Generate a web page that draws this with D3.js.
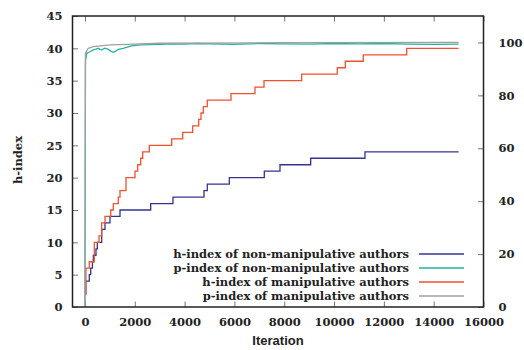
<!DOCTYPE html>
<html>
<head>
<meta charset="utf-8">
<script src="https://cdn.jsdelivr.net/npm/d3@7"></script>
<style>
  body { margin: 0; background: #fff; }
  text { fill: #222; }
</style>
</head>
<body>
<div id="chart"></div>
<script>
// iteration / value pairs
const hNonManip = [[0,2],[30,4],[174,5],[231,6],[300,7],[335,8],[443,9],[496,10],[672,12],[805,13],[1005,14],[1407,15],
  [2639,16],[3534,17],[4779,18],[4911,19],[5795,20],[7200,21],[7830,22],[9062,23],[11242,24],[15000,24]];
const hManip = [[0,2],[40,6],[174,7],[375,10],[564,11],[672,13],[805,14],[1034,15],[1138,16],[1339,17],[1407,18],
  [1648,20],[2009,21],[2117,22],[2238,23],[2318,24],[2583,25],[3482,26],[3924,27],[4325,28],[4566,29],[4659,30],
  [4751,31],[4911,32],[5863,33],[6826,34],[7188,35],[8701,36],[10130,37],[10452,38],[11174,39],[12916,40],[15000,40]];
// p-index is drawn against the right axis
const pNonManip = [[0,0],[20,93],[70,95.9],[200,96.5],[335,97.2],[440,97.5],[536,97.8],[600,97.4],[672,97.2],
  [805,97.8],[900,97.6],[1005,96.9],[1080,96.5],[1138,96.3],[1250,96.8],[1339,97.4],[1539,97.8],[1700,98.2],
  [1877,98.7],[2210,99.05],[2600,99.2],[3013,99.3],[3500,99.5],[4000,99.4],[4500,99.6],[5000,99.5],[6000,99.3],
  [7000,99.6],[8000,99.5],[9000,99.4],[10000,99.6],[11000,99.5],[12000,99.6],[13000,99.4],[14000,99.3],[15000,99.4]];
const pManip = [[0,0],[20,96],[134,97.8],[335,98.4],[1005,99.05],[1700,99.3],[3013,99.7],[8000,99.9],[15000,100]];

const seriesNames = ["h-index of non-manipulative authors", "p-index of non-manipulative authors",
  "h-index of manipulative authors", "p-index of manipulative authors"];
const seriesColors = ["#34348f", "#22b3a6", "#f0522c", "#a0a0a0"];
const xTicks = [0, 2000, 4000, 6000, 8000, 10000, 12000, 14000, 16000];
const yTicks = [0, 5, 10, 15, 20, 25, 30, 35, 40, 45];
const y2Ticks = [0, 20, 40, 60, 80, 100];

const W = 524, H = 350;
const m = { left: 72.5, right: 40.5, top: 16, bottom: 43 };

const svg = d3.select("#chart").append("svg").attr("width", W).attr("height", H);

const x = d3.scaleLinear().domain([-500, 16000]).range([m.left, W - m.right]);
const y = d3.scaleLinear().domain([0, 45]).range([H - m.bottom, m.top]);
const y2 = d3.scaleLinear().domain([0, 110]).range([H - m.bottom, m.top]);

const serif = "'DejaVu Serif', serif";

// ticks
function tickStyle(g) {
  g.select(".domain").remove();
  g.selectAll(".tick line").attr("stroke", "#777").attr("stroke-width", 1);
  g.selectAll(".tick text").attr("font-family", serif).attr("font-weight", "bold")
    .attr("font-size", 11.5).attr("fill", "#222");
}
svg.append("g").attr("transform", `translate(0,${H - m.bottom})`)
  .call(d3.axisBottom(x).tickValues(xTicks).tickSize(-5.5).tickPadding(11).tickFormat(d3.format("d")))
  .call(tickStyle);
svg.append("g").attr("transform", `translate(0,${m.top})`)
  .call(d3.axisTop(x).tickValues(xTicks).tickSize(-5.5).tickFormat(""))
  .call(tickStyle);
svg.append("g").attr("transform", `translate(${m.left},0)`)
  .call(d3.axisLeft(y).tickValues(yTicks).tickSize(-5.5).tickPadding(10))
  .call(tickStyle);
svg.append("g").attr("transform", `translate(${W - m.right},0)`)
  .call(d3.axisRight(y2).tickValues(y2Ticks).tickSize(-5.5).tickPadding(15))
  .call(tickStyle);

// lines
const lineH = d3.line().curve(d3.curveStepAfter).x(d => x(d[0])).y(d => y(d[1]));
const lineP = d3.line().x(d => x(d[0])).y(d => y2(d[1]));
const paths = [lineH(hNonManip), lineP(pNonManip), lineH(hManip), lineP(pManip)];
paths.forEach((p, i) => {
  svg.append("path").attr("d", p).attr("fill", "none")
    .attr("stroke", seriesColors[i]).attr("stroke-width", 1.3);
});

// frame
svg.append("rect").attr("x", m.left).attr("y", m.top)
  .attr("width", W - m.left - m.right).attr("height", H - m.top - m.bottom)
  .attr("fill", "none").attr("stroke", "#222").attr("stroke-width", 1.5);

// legend
const lg = svg.append("g");
seriesNames.forEach((name, i) => {
  const ly = 254 + i * 14;
  lg.append("text").attr("x", 409).attr("y", ly + 4).attr("text-anchor", "end")
    .attr("font-family", serif).attr("font-weight", "bold").attr("font-size", 11.5)
    .text(name);
  lg.append("line").attr("x1", 419).attr("x2", 464).attr("y1", ly).attr("y2", ly)
    .attr("stroke", seriesColors[i]).attr("stroke-width", 1.3);
});

// axis titles
svg.append("text").attr("x", 278).attr("y", 345).attr("text-anchor", "middle")
  .attr("font-family", "'Liberation Sans', Arial, sans-serif").attr("font-weight", "bold")
  .attr("font-size", 13).text("Iteration");
svg.append("text").attr("transform", "translate(22,160) rotate(-90)").attr("text-anchor", "middle")
  .attr("font-family", serif).attr("font-weight", "bold").attr("font-size", 11.5)
  .text("h-index");
</script>
</body>
</html>
